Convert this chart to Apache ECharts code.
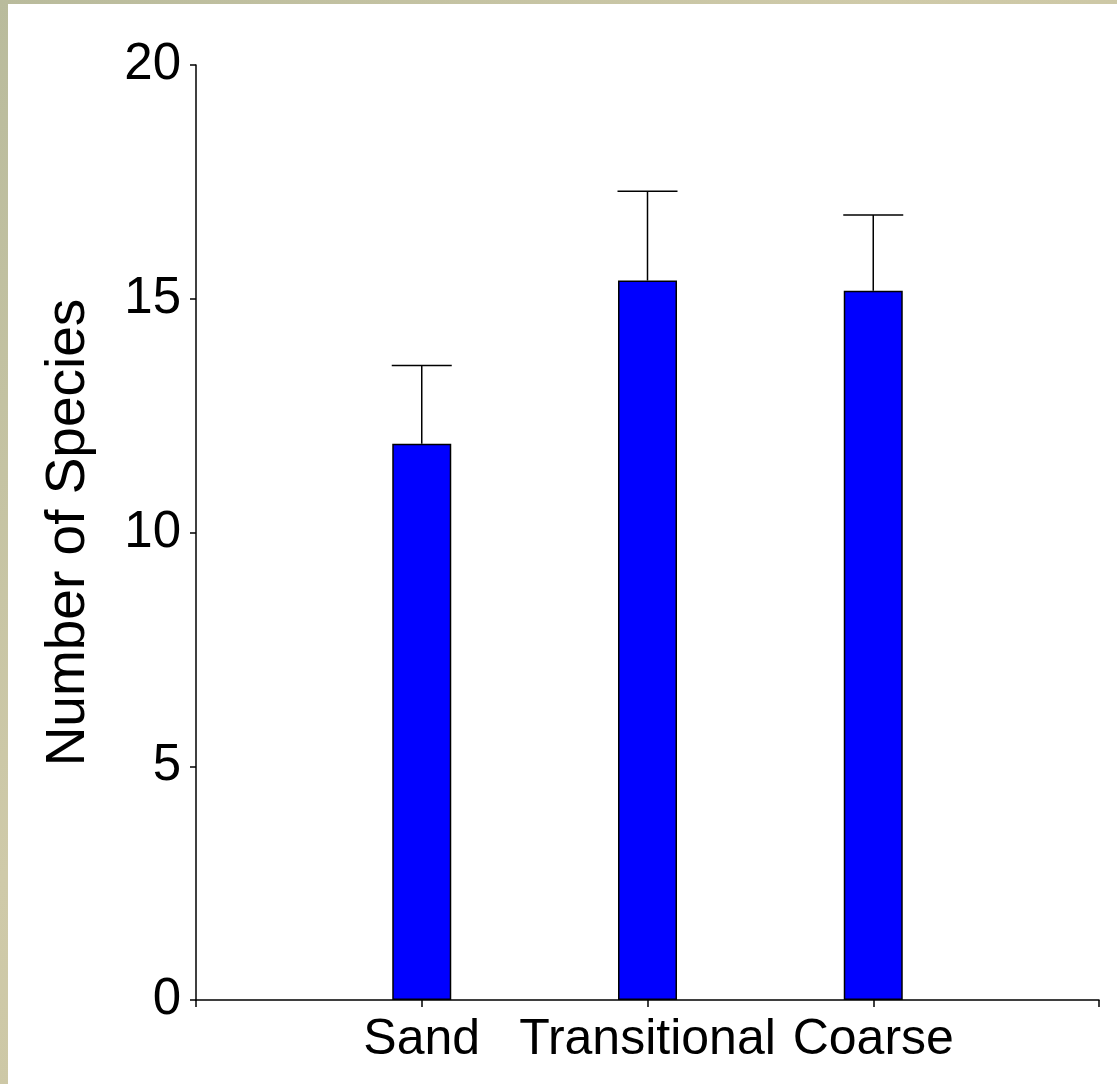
<!DOCTYPE html>
<html>
<head>
<meta charset="utf-8">
<style>
  html, body { margin: 0; padding: 0; width: 1117px; height: 1084px; overflow: hidden;
    background: linear-gradient(135deg, #b9bb9c 0%, #cfcaa9 40%, #c9c4a0 70%, #d2cdb0 100%); }
  #panel { position: absolute; left: 8px; top: 4px; right: 0; bottom: 0; background: #ffffff; }
  #chart { position: absolute; left: 0; top: 0; width: 1117px; height: 1084px; }
</style>
<script src="https://cdn.jsdelivr.net/npm/echarts@6/dist/echarts.min.js"></script>
</head>
<body>
<div id="panel"></div>
<div id="chart"></div>
<script>
const categories = ['', 'Sand', 'Transitional', 'Coarse', ''];
const meanValues = ['-', 11.9, 15.39, 15.17, '-'];
const errorTops = [null, 13.57, 17.30, 16.79, null];
const yTicks = { min: 0, max: 20, interval: 5 };

const chart = echarts.init(document.getElementById('chart'));
const font = 'Liberation Sans, Arial, sans-serif';

const errData = [];
for (let i = 0; i < categories.length; i++) {
  if (errorTops[i] != null) errData.push([i, meanValues[i], errorTops[i]]);
}

chart.setOption({
  backgroundColor: 'transparent',
  animation: false,
  grid: { left: 196, right: 18, top: 65, bottom: 84, containLabel: false },
  xAxis: {
    type: 'category',
    data: categories,
    boundaryGap: false,
    axisLine: { lineStyle: { color: '#000', width: 1.5 } },
    axisTick: { show: true, interval: 0, length: 7, lineStyle: { color: '#000', width: 1.5 } },
    axisLabel: { interval: 0, color: '#000', fontSize: 50, fontFamily: font, margin: 15 },
    splitLine: { show: false }
  },
  yAxis: {
    type: 'value',
    min: yTicks.min, max: yTicks.max, interval: yTicks.interval,
    name: 'Number of Species',
    nameLocation: 'middle',
    nameGap: 100,
    nameRotate: 90,
    nameTextStyle: { color: '#000', fontSize: 55, fontFamily: font },
    axisLine: { show: true, lineStyle: { color: '#000', width: 1.5 } },
    axisTick: { show: true, length: 6, lineStyle: { color: '#000', width: 1.5 } },
    axisLabel: { color: '#000', fontSize: 51, fontFamily: font, margin: 15 },
    splitLine: { show: false }
  },
  series: [
    {
      type: 'bar',
      data: meanValues,
      barWidth: 59,
      itemStyle: { color: '#0000ff', borderColor: '#000', borderWidth: 1.5 }
    },
    {
      type: 'custom',
      data: errData,
      z: 1,
      renderItem: function (params, api) {
        const x = api.value(0);
        const base = api.coord([x, api.value(1)]);
        const top = api.coord([x, api.value(2)]);
        const half = 30;
        const style = { stroke: '#000', lineWidth: 1.5 };
        return {
          type: 'group',
          children: [
            { type: 'line', shape: { x1: base[0], y1: base[1], x2: top[0], y2: top[1] }, style: style },
            { type: 'line', shape: { x1: top[0] - half, y1: top[1], x2: top[0] + half, y2: top[1] }, style: style }
          ]
        };
      }
    }
  ]
});
</script>
</body>
</html>
